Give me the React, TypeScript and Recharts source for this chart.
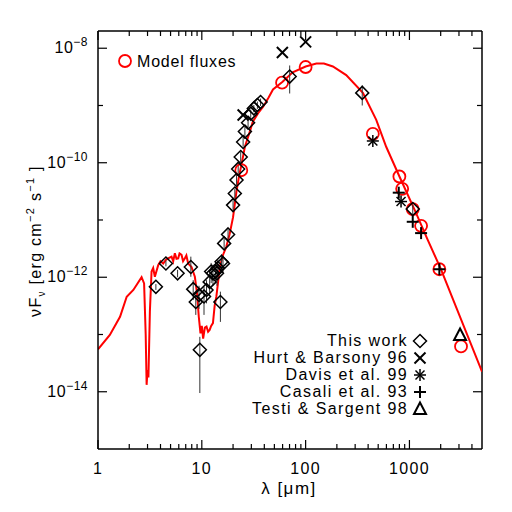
import { ComposedChart, ErrorBar, Line, ReferenceLine, Scatter, XAxis, YAxis } from 'recharts'

// model SED (wavelength in micron, nu F_nu in erg cm^-2 s^-1)
const modelLam = [
  1.0, 1.3, 1.63, 1.89, 2.19, 2.63, 2.78, 2.88, 2.94, 3.0, 3.06, 3.16, 3.28, 3.4, 3.53, 3.8, 4.0,
  4.25, 4.5, 4.74, 5.11, 5.3, 5.5, 5.7, 5.92, 6.1, 6.38, 6.6, 6.87, 7.1, 7.39, 7.96, 8.57, 9.0,
  9.35, 9.71, 10.0, 10.3, 10.7, 11.1, 11.5, 11.9, 12.3, 12.8, 13.3, 13.8, 14.3, 14.9, 16.0, 17.2,
  18.5, 20.0, 21.6, 23.0, 24.0, 26.0, 29.0, 31.0, 35.0, 39.0, 44.0, 48.5, 60.0, 75.0, 100, 127,
  150, 183, 246, 356, 479, 597, 801, 1159, 1500, 2000, 5000,
]
const modelFlux = [
  5.5e-14, 9.8e-14, 2.04e-13, 4.57e-13, 6.0e-13, 1.0e-12, 7.8e-13, 1.0e-13, 1.32e-14, 2.4e-14,
  1.78e-14, 2.5e-13, 1.26e-12, 1.45e-12, 1.02e-12, 1.62e-12, 1.9e-12, 1.74e-12, 2.0e-12, 2.14e-12,
  2.29e-12, 1.9e-12, 2.63e-12, 2.1e-12, 2.14e-12, 2.6e-12, 2.45e-12, 1.9e-12, 2.14e-12, 2.4e-12,
  1.74e-12, 1.51e-12, 1.02e-12, 5.2e-13, 2.04e-13, 1.05e-13, 1.41e-13, 8.5e-14, 1.32e-13, 1.38e-13,
  1.12e-13, 1.2e-13, 1.41e-13, 1.58e-13, 3.2e-13, 4.57e-13, 7.8e-13, 1.51e-12, 2.45e-12, 3.4e-12,
  5.6e-12, 1.12e-11, 3.2e-11, 6.3e-11, 8.9e-11, 1.9e-10, 3.5e-10, 5.2e-10, 7.4e-10, 9.5e-10,
  1.38e-9, 1.9e-9, 2.6e-9, 3.8e-9, 4.8e-9, 5.4e-9, 5.4e-9, 4.8e-9, 3.4e-9, 1.66e-9, 5.6e-10,
  1.9e-10, 5.75e-11, 1.32e-11, 4.5e-12, 1.41e-12, 2.24e-14,
]

// this work (diamonds) with error bounds
const workLam = [
  3.61, 4.51, 5.84, 7.84, 8.26, 8.75, 9.4, 9.57, 10.5, 11.1, 11.9, 12.3, 12.8, 13.6, 14.0, 14.3,
  15.1, 15.5, 16.0, 16.4, 17.9, 20.0, 20.8, 21.6, 22.4, 23.7, 25.0, 26.0, 27.9, 29.6, 31.7, 34.3,
  36.8, 70.2, 351, 1076,
]
const workFlux = [
  6.8e-13, 1.74e-12, 1.17e-12, 1.51e-12, 6.2e-13, 3.7e-13, 4.9e-13, 5.4e-14, 4.6e-13, 6.0e-13,
  8.3e-13, 1.26e-12, 1.17e-12, 1.26e-12, 1.17e-12, 1.45e-12, 3.7e-13, 1.86e-12, 1.74e-12, 3.9e-12,
  5.6e-12, 1.82e-11, 2.9e-11, 5.0e-11, 7.8e-11, 1.26e-10, 2.3e-10, 3.5e-10, 5.0e-10, 7.2e-10,
  8.9e-10, 1.02e-9, 1.15e-9, 3.2e-9, 1.66e-9, 1.55e-11,
]
const workLo = [
  6.0e-13, 1.55e-12, 1.0e-12, 1.02e-12, 4.0e-13, 2.2e-13, 2.8e-13, 9.5e-15, 2.2e-13, 3.5e-13,
  5.0e-13, 7.9e-13, 7.1e-13, 7.9e-13, 7.1e-13, 8.9e-13, 1.66e-13, 1.26e-12, 1.2e-12, 3.2e-12,
  4.6e-12, 1.5e-11, 2.4e-11, 4.1e-11, 6.4e-11, 1.03e-10, 1.9e-10, 2.9e-10, 4.2e-10, 6.1e-10,
  7.6e-10, 8.7e-10, 9.8e-10, 1.62e-9, 1.0e-9, 1.26e-11,
]
const workHi = [
  7.6e-13, 1.95e-12, 1.35e-12, 2.29e-12, 8.9e-13, 4.9e-13, 7.1e-13, 9.1e-14, 6.8e-13, 8.9e-13,
  1.2e-12, 1.78e-12, 1.66e-12, 1.78e-12, 1.66e-12, 2.0e-12, 5.6e-13, 2.5e-12, 2.3e-12, 4.7e-12,
  6.8e-12, 2.2e-11, 3.5e-11, 6.1e-11, 9.5e-11, 1.54e-10, 2.8e-10, 4.2e-10, 6.0e-10, 8.5e-10,
  1.02e-9, 1.17e-9, 1.32e-9, 5.0e-9, 2.24e-9, 1.86e-11,
]

const hurtLam = [25, 59.7, 100]
const hurtFlux = [6.8e-10, 8.4e-9, 1.29e-8]
const davisLam = [444, 830]
const davisFlux = [2.4e-10, 2.1e-11]
const casaliLam = [789, 1076, 1295, 1942]
const casaliFlux = [3.0e-11, 9.3e-12, 5.9e-12, 1.38e-12]
const testiLam = [3074]
const testiFlux = [9.8e-14]
const fitLam = [24, 59.3, 100, 444, 800, 851, 1076, 1295, 1942, 3140]
const fitFlux = [7.4e-11, 2.5e-9, 4.7e-9, 3.2e-10, 5.75e-11, 3.5e-11, 1.55e-11, 7.9e-12, 1.38e-12, 6.2e-14]

const xTicks = [
  1, 2, 3, 4, 5, 6, 7, 8, 9, 10, 20, 30, 40, 50, 60, 70, 80, 90, 100, 200, 300, 400, 500, 600,
  700, 800, 900, 1000, 2000, 3000, 4000,
]
const xMajor = [1, 10, 100, 1000]
const yExps = [-14, -13, -12, -11, -10, -9, -8]
const yTicks = yExps.map((e) => Math.pow(10, e))
const X_MAX = 5000
const Y_MIN = 1e-15
const Y_MAX = 2e-8

// plot box size (chart 512x512 minus margins and axis sizes)
const PLOT_W = 384
const PLOT_H = 418

const FONT = '"Liberation Sans", Arial, Helvetica, sans-serif'
const RED = '#ff0000'

const pts = (xs: number[], ys: number[]) => xs.map((x, i) => ({ x, y: ys[i] }))
const model = pts(modelLam, modelFlux)
const work = workLam.map((x, i) => ({
  x,
  y: workFlux[i],
  err: [workFlux[i] - workLo[i], workHi[i] - workFlux[i]],
}))

const Diamond = ({ cx, cy }: any) => (
  <polygon
    points={`${cx},${cy - 6.5} ${cx + 6.5},${cy} ${cx},${cy + 6.5} ${cx - 6.5},${cy}`}
    fill="none"
    stroke="#000"
    strokeWidth={1.5}
  />
)
const Cross = ({ cx, cy }: any) => (
  <g stroke="#000" strokeWidth={2}>
    <line x1={cx - 5.5} y1={cy - 5.5} x2={cx + 5.5} y2={cy + 5.5} />
    <line x1={cx - 5.5} y1={cy + 5.5} x2={cx + 5.5} y2={cy - 5.5} />
  </g>
)
const Star = ({ cx, cy }: any) => (
  <g stroke="#000" strokeWidth={1.5}>
    <line x1={cx} y1={cy - 6} x2={cx} y2={cy + 6} />
    <line x1={cx - 6} y1={cy} x2={cx + 6} y2={cy} />
    <line x1={cx - 4.5} y1={cy - 4.5} x2={cx + 4.5} y2={cy + 4.5} />
    <line x1={cx - 4.5} y1={cy + 4.5} x2={cx + 4.5} y2={cy - 4.5} />
  </g>
)
const Plus = ({ cx, cy }: any) => (
  <g stroke="#000" strokeWidth={2}>
    <line x1={cx} y1={cy - 6} x2={cx} y2={cy + 6} />
    <line x1={cx - 6} y1={cy} x2={cx + 6} y2={cy} />
  </g>
)
const Tri = ({ cx, cy }: any) => (
  <polygon
    points={`${cx},${cy - 6.5} ${cx + 6},${cy + 5} ${cx - 6},${cy + 5}`}
    fill="none"
    stroke="#000"
    strokeWidth={2}
  />
)
const Ring = ({ cx, cy }: any) => (
  <circle cx={cx} cy={cy} r={6} fill="none" stroke={RED} strokeWidth={1.8} />
)

const sup = (s: string) => (
  <>
    <tspan dy={-7} fontSize={11}>{s}</tspan>
    <tspan dy={7}> </tspan>
  </>
)

// bottom axis tick also draws the matching inward tick on the top edge
function XTick({ x, y, payload }: any) {
  const major = xMajor.includes(payload.value)
  const len = major ? 9 : 5
  return (
    <g>
      <line x1={x} x2={x} y1={y} y2={y - len} stroke="#000" strokeWidth={1.2} />
      <line x1={x} x2={x} y1={y - PLOT_H} y2={y - PLOT_H + len} stroke="#000" strokeWidth={1.2} />
      {major && (
        <text x={x} y={y + 25} textAnchor="middle" fontSize={16} fontFamily={FONT} letterSpacing={1.3}>
          {payload.value}
        </text>
      )}
    </g>
  )
}

// left axis tick also draws the matching inward tick on the right edge
function YTick({ x, y, payload }: any) {
  const e = Math.round(Math.log10(payload.value))
  const major = e % 2 === 0
  const len = major ? 9 : 5
  return (
    <g>
      <line x1={x} x2={x + len} y1={y} y2={y} stroke="#000" strokeWidth={1.2} />
      <line x1={x + PLOT_W} x2={x + PLOT_W - len} y1={y} y2={y} stroke="#000" strokeWidth={1.2} />
      {major && (
        <text x={x - 10} y={y + 5} textAnchor="end" fontSize={16} fontFamily={FONT} letterSpacing={0.5}>
          10
          <tspan dy={-7} fontSize={12}>{`\u2212${-e}`}</tspan>
        </text>
      )}
    </g>
  )
}

const legendRows = [
  { label: 'This work', Mark: Diamond },
  { label: 'Hurt & Barsony 96', Mark: Cross },
  { label: 'Davis et al. 99', Mark: Star },
  { label: 'Casali et al. 93', Mark: Plus },
  { label: 'Testi & Sargent 98', Mark: Tri },
]

export default function App() {
  return (
    <div style={{ position: 'absolute', left: 0, top: 0, width: 512, height: 512, background: '#fff' }}>
      <ComposedChart width={512} height={512} margin={{ top: 31, right: 30, bottom: 33, left: 38 }}>
        <XAxis
          dataKey="x"
          type="number"
          scale="log"
          domain={[1, X_MAX]}
          allowDataOverflow
          ticks={xTicks}
          interval={0}
          height={30}
          tickSize={0}
          tickMargin={0}
          tickLine={false}
          axisLine={{ stroke: '#000', strokeWidth: 1.5 }}
          tick={(p: any) => <XTick {...p} />}
        />
        <YAxis
          type="number"
          scale="log"
          domain={[Y_MIN, Y_MAX]}
          allowDataOverflow
          ticks={yTicks}
          interval={0}
          width={60}
          tickSize={0}
          tickMargin={0}
          tickLine={false}
          axisLine={{ stroke: '#000', strokeWidth: 1.5 }}
          tick={(p: any) => <YTick {...p} />}
        />
        <ReferenceLine y={Y_MAX} stroke="#000" strokeWidth={1.5} ifOverflow="visible" />
        <ReferenceLine x={X_MAX} stroke="#000" strokeWidth={1.5} ifOverflow="visible" />
        <Line
          data={model}
          dataKey="y"
          type="linear"
          stroke={RED}
          strokeWidth={2}
          dot={false}
          isAnimationActive={false}
        />
        <Scatter data={pts(fitLam, fitFlux)} dataKey="y" shape={(p: any) => <Ring {...p} />} isAnimationActive={false} />
        <Scatter data={work} dataKey="y" shape={(p: any) => <Diamond {...p} />} isAnimationActive={false}>
          <ErrorBar dataKey="err" direction="y" width={0} stroke="#333" strokeWidth={1} isAnimationActive={false} />
        </Scatter>
        <Scatter data={pts(hurtLam, hurtFlux)} dataKey="y" shape={(p: any) => <Cross {...p} />} isAnimationActive={false} />
        <Scatter data={pts(davisLam, davisFlux)} dataKey="y" shape={(p: any) => <Star {...p} />} isAnimationActive={false} />
        <Scatter data={pts(casaliLam, casaliFlux)} dataKey="y" shape={(p: any) => <Plus {...p} />} isAnimationActive={false} />
        <Scatter data={pts(testiLam, testiFlux)} dataKey="y" shape={(p: any) => <Tri {...p} />} isAnimationActive={false} />
      </ComposedChart>
      <svg
        width={512}
        height={512}
        style={{ position: 'absolute', left: 0, top: 0, pointerEvents: 'none' }}
        fontFamily={FONT}
      >
        <Ring cx={125} cy={61} />
        <text x={137} y={67} fontSize={16} letterSpacing={0.8}>
          Model fluxes
        </text>
        {legendRows.map(({ label, Mark }, i) => (
          <g key={label}>
            <text x={408} y={346 + i * 17} fontSize={16} textAnchor="end" letterSpacing={1.4}>
              {label}
            </text>
            <Mark cx={420} cy={341 + i * 17} />
          </g>
        ))}
        <text x={289} y={494} fontSize={17} textAnchor="middle" letterSpacing={1.5}>
          λ [μm]
        </text>
        <text transform="translate(41,241) rotate(-90)" textAnchor="middle" fontSize={16} letterSpacing={1.3}>
          νF
          <tspan dy={4} fontSize={10}>ν</tspan>
          <tspan dy={-4}> [erg cm</tspan>
          {sup('\u22122')}
          s{sup('\u22121')}]
        </text>
      </svg>
    </div>
  )
}
